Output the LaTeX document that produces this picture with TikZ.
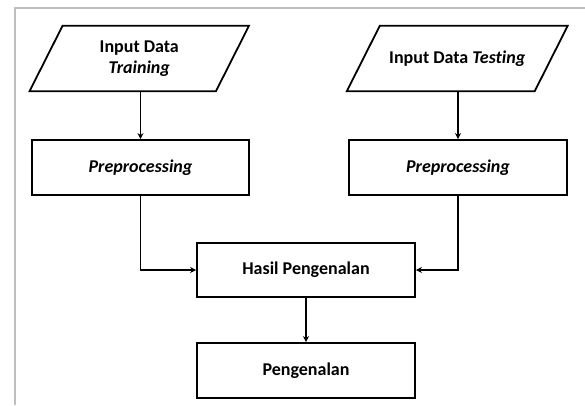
\documentclass[tikz,border=0pt]{standalone}
\usepackage{fontspec}
\setmainfont[Ligatures=NoCommon]{Carlito}
\usetikzlibrary{arrows.meta}
\tikzset{
  box/.style={draw=black, line width=1.8pt, fill=white, minimum height=55pt, inner sep=0pt, font=\fontsize{18}{21}\selectfont\bfseries, align=center},
  iobody/.style={minimum height=65pt, inner sep=0pt, font=\fontsize{18}{21}\selectfont\bfseries, align=center},
  para/.style={draw=black, line width=1.8pt, line join=miter},
  conn/.style={draw=black, line width=1.8pt, -{Stealth[length=6pt,width=6pt]}},
  frame/.style={draw=black!25, line width=2pt}
}
\begin{document}
\begin{tikzpicture}[x=1pt,y=-1pt]
\useasboundingbox (0,0) rectangle (585,405);
\fill[white] (0,0) rectangle (585,405);
\coordinate (ftl) at (15,8);
\coordinate (ftr) at (585,8);
\coordinate (fbl) at (15,405);
\draw[frame] (ftr) -- (ftl) -- (fbl);

% input nodes (bodies)
\node[iobody, minimum width=186pt] (in1) at (139.25,58.5) {Input Data\\\textit{Training}};
\node[iobody, minimum width=187.5pt] (in2) at (457.25,58.5) {Input Data \textit{Testing}};
\draw[para] ([xshift=16.5pt]in1.north west) -- ([xshift=16.5pt]in1.north east) -- ([xshift=-16.5pt]in1.south east) -- ([xshift=-16.5pt]in1.south west) -- cycle;
\draw[para] ([xshift=16.5pt]in2.north west) -- ([xshift=16.5pt]in2.north east) -- ([xshift=-16.5pt]in2.south east) -- ([xshift=-16.5pt]in2.south west) -- cycle;

\node[box, minimum width=217pt] (pre1) at (140.5,167.5) {\textit{Preprocessing}};
\node[box, minimum width=218pt] (pre2) at (458,167.5) {\textit{Preprocessing}};
\node[box, minimum width=218pt, minimum height=54pt] (hasil) at (306,270) {Hasil Pengenalan};
\node[box, minimum width=218pt] (peng) at (306,370.5) {Pengenalan};

\draw[conn] (in1.south -| pre1.north) -- (pre1.north);
\draw[conn] (in2.south -| pre2.north) -- (pre2.north);
\draw[conn] (pre1.south) |- (hasil.west);
\draw[conn] (pre2.south) |- (hasil.east);
\draw[conn] (hasil.south) -- (peng.north);
\end{tikzpicture}
\end{document}
